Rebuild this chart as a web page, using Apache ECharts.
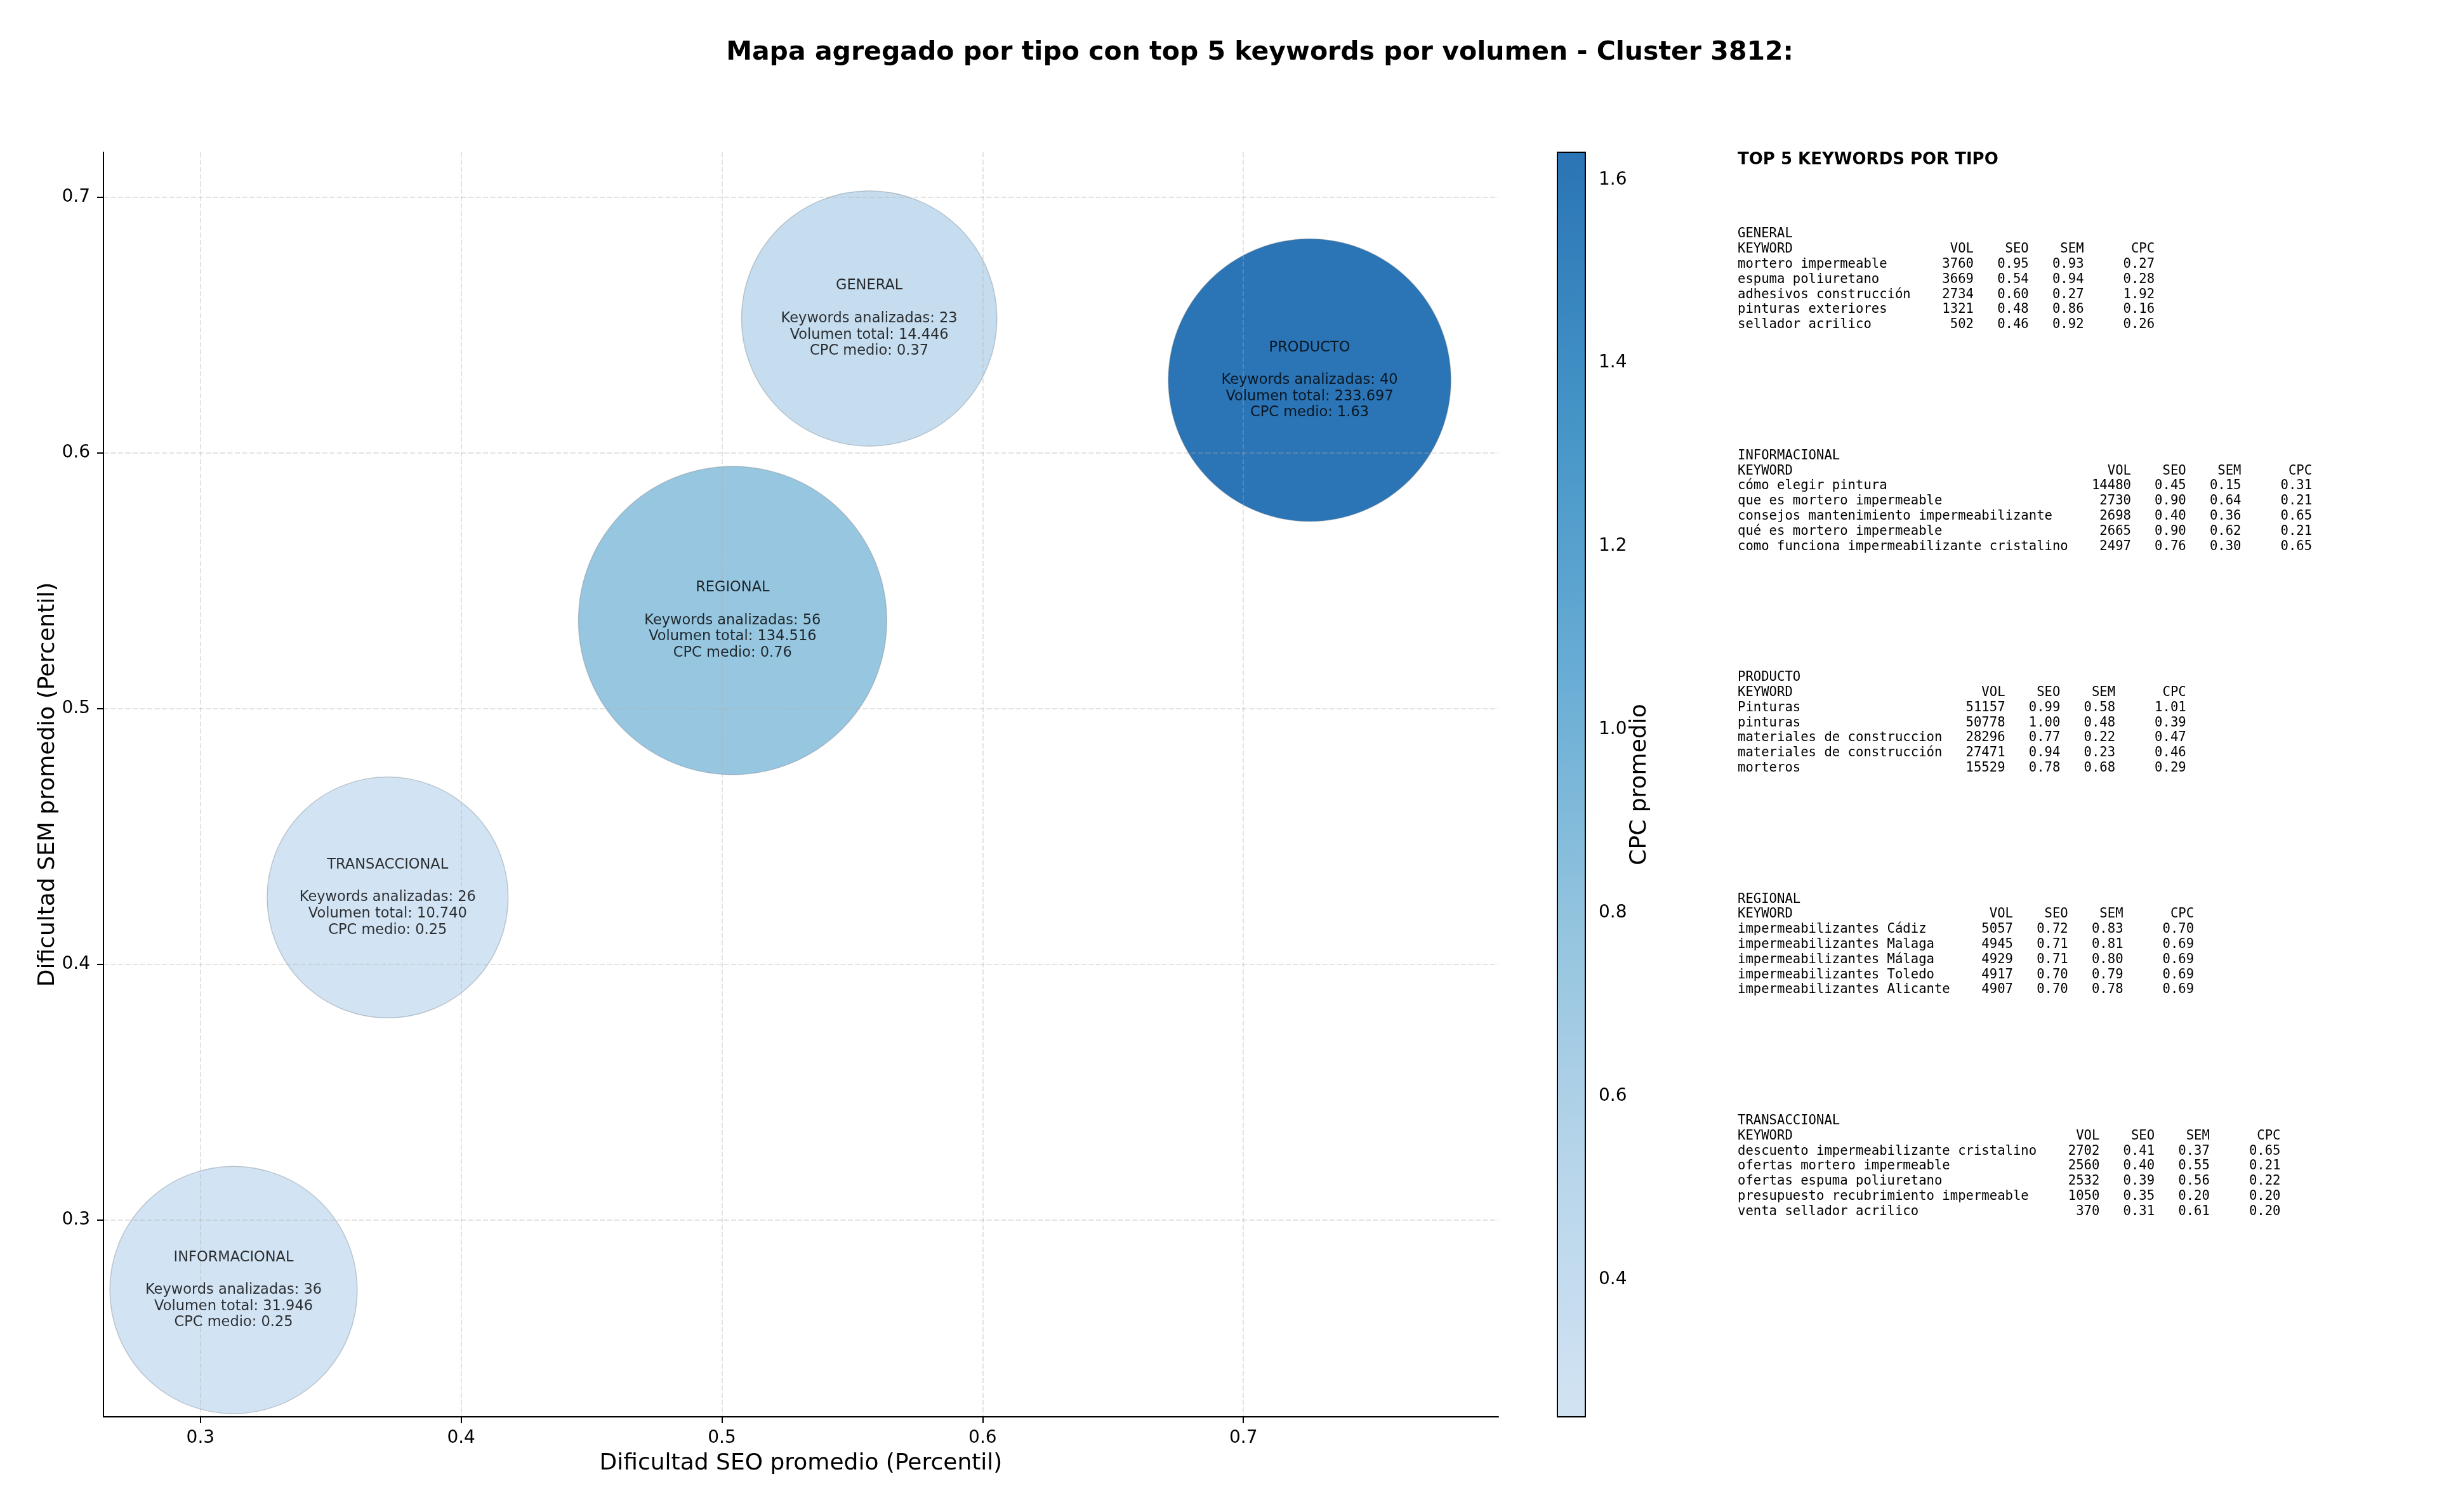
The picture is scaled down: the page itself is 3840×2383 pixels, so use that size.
<!DOCTYPE html>
<html>
<head>
<meta charset="utf-8">
<script src="https://cdn.jsdelivr.net/npm/echarts@6/dist/echarts.min.js"></script>
<style>
  html, body { margin: 0; padding: 0; background: #fff; }
  #chart { width: 3840px; height: 2383px; }
</style>
</head>
<body>
<div id="chart"></div>
<script>
// agregados por tipo
const tipos = ['GENERAL', 'INFORMACIONAL', 'PRODUCTO', 'REGIONAL', 'TRANSACCIONAL'];
const seoPromedio = [0.5565, 0.3127, 0.7254, 0.5041, 0.3718];
const semPromedio = [0.6526, 0.2727, 0.6285, 0.5345, 0.4262];
const cpcMedio = [0.37, 0.25, 1.63, 0.76, 0.25];
const numKeywords = [23, 36, 40, 56, 26];
const volumenTotal = [14446, 31946, 233697, 134516, 10740];
// tamaño de burbuja (s de scatter, pt^2)
const tamanoBurbuja = [21000, 19700, 25700, 30600, 18700];

const xTicks = [0.3, 0.4, 0.5, 0.6, 0.7];
const yTicks = [0.3, 0.4, 0.5, 0.6, 0.7];
const cbTicks = [0.4, 0.6, 0.8, 1.0, 1.2, 1.4, 1.6];

// top 5 keywords por volumen: [keyword, vol, seo, sem, cpc]
const topGeneral = [
  ['mortero impermeable', 3760, 0.95, 0.93, 0.27],
  ['espuma poliuretano', 3669, 0.54, 0.94, 0.28],
  ['adhesivos construcción', 2734, 0.60, 0.27, 1.92],
  ['pinturas exteriores', 1321, 0.48, 0.86, 0.16],
  ['sellador acrilico', 502, 0.46, 0.92, 0.26]
];
const topInformacional = [
  ['cómo elegir pintura', 14480, 0.45, 0.15, 0.31],
  ['que es mortero impermeable', 2730, 0.90, 0.64, 0.21],
  ['consejos mantenimiento impermeabilizante', 2698, 0.40, 0.36, 0.65],
  ['qué es mortero impermeable', 2665, 0.90, 0.62, 0.21],
  ['como funciona impermeabilizante cristalino', 2497, 0.76, 0.30, 0.65]
];
const topProducto = [
  ['Pinturas', 51157, 0.99, 0.58, 1.01],
  ['pinturas', 50778, 1.00, 0.48, 0.39],
  ['materiales de construccion', 28296, 0.77, 0.22, 0.47],
  ['materiales de construcción', 27471, 0.94, 0.23, 0.46],
  ['morteros', 15529, 0.78, 0.68, 0.29]
];
const topRegional = [
  ['impermeabilizantes Cádiz', 5057, 0.72, 0.83, 0.70],
  ['impermeabilizantes Malaga', 4945, 0.71, 0.81, 0.69],
  ['impermeabilizantes Málaga', 4929, 0.71, 0.80, 0.69],
  ['impermeabilizantes Toledo', 4917, 0.70, 0.79, 0.69],
  ['impermeabilizantes Alicante', 4907, 0.70, 0.78, 0.69]
];
const topTransaccional = [
  ['descuento impermeabilizante cristalino', 2702, 0.41, 0.37, 0.65],
  ['ofertas mortero impermeable', 2560, 0.40, 0.55, 0.21],
  ['ofertas espuma poliuretano', 2532, 0.39, 0.56, 0.22],
  ['presupuesto recubrimiento impermeable', 1050, 0.35, 0.20, 0.20],
  ['venta sellador acrilico', 370, 0.31, 0.61, 0.20]
];
const topPorTipo = [topGeneral, topInformacional, topProducto, topRegional, topTransaccional];

// Blues recortado
const BLUES = ['#d2e3f3', '#b7d5ea', '#91c3de', '#66abd4', '#4393c6', '#2b74b5'];
const FONT = 'DejaVu Sans';

function miles(v) {
  return String(v).replace(/\B(?=(\d{3})+(?!\d))/g, '.');
}

function tabla(nombre, filas) {
  const w = Math.max(...filas.map(f => f[0].length));
  const lines = [nombre,
    'KEYWORD'.padEnd(w) + 'VOL'.padStart(8) + 'SEO'.padStart(7) + 'SEM'.padStart(7) + 'CPC'.padStart(9)];
  filas.forEach(f => {
    lines.push(f[0].padEnd(w) + String(f[1]).padStart(8) + f[2].toFixed(2).padStart(7) +
      f[3].toFixed(2).padStart(7) + f[4].toFixed(2).padStart(9));
  });
  return lines.join('\n');
}

const puntos = tipos.map((t, i) => ({
  name: t,
  value: [seoPromedio[i], semPromedio[i], cpcMedio[i]],
  symbolSize: Math.sqrt(tamanoBurbuja[i]) * 200 / 72,
  kw: numKeywords[i],
  vol: volumenTotal[i]
}));

const textos = [
  {
    type: 'text', x: 1985, y: 83,
    style: {
      text: 'Mapa agregado por tipo con top 5 keywords por volumen - Cluster 3812:',
      font: 'bold 41px "DejaVu Sans"', fill: '#000',
      textAlign: 'center', textVerticalAlign: 'middle'
    }
  },
  {
    type: 'text', x: 2738, y: 252,
    style: {
      text: 'TOP 5 KEYWORDS POR TIPO', font: 'bold 26px "DejaVu Sans"', fill: '#000',
      textAlign: 'left', textVerticalAlign: 'middle'
    }
  }
];
tipos.forEach((t, i) => {
  textos.push({
    type: 'text', x: 2738, y: 369 - 11.9 + i * 349.4,
    style: {
      text: tabla(t, topPorTipo[i]),
      font: '20.6px "DejaVu Sans Mono"', lineHeight: 23.8, fill: '#000',
      textAlign: 'left', textVerticalAlign: 'top'
    }
  });
});

const axisLbl = { color: '#000', fontSize: 28, fontFamily: FONT };
const nameLbl = { fontSize: 36, color: '#000', fontFamily: FONT };
const gridLine = { show: true, lineStyle: { color: 'rgba(176,176,176,0.35)', width: 2, type: [8, 3.5] } };

const chart = echarts.init(document.getElementById('chart'));
chart.setOption({
  animation: false,
  backgroundColor: '#fff',
  textStyle: { fontFamily: FONT },
  graphic: textos,
  grid: [
    { left: 163, top: 240, width: 2198, height: 1993 },
    {
      left: 2454, top: 240, width: 44, height: 1993, show: true, z: 1,
      borderColor: '#000', borderWidth: 2,
      backgroundColor: {
        type: 'linear', x: 0, y: 1, x2: 0, y2: 0,
        colorStops: BLUES.map((c, i) => ({ offset: i / (BLUES.length - 1), color: c }))
      }
    }
  ],
  visualMap: {
    type: 'continuous', show: false, seriesIndex: 0, dimension: 2,
    min: 0.25, max: 1.63, inRange: { color: BLUES }
  },
  xAxis: [
    {
      type: 'value', gridIndex: 0, min: 0.2628, max: 0.7978, z: 3,
      name: 'Dificultad SEO promedio (Percentil)', nameLocation: 'middle', nameGap: 56,
      nameMoveOverlap: false,
      nameTextStyle: nameLbl,
      axisLine: { onZero: false, lineStyle: { color: '#000', width: 2 } },
      axisTick: { customValues: xTicks, length: 10, lineStyle: { color: '#000', width: 2 } },
      axisLabel: Object.assign({ customValues: xTicks, margin: 20, formatter: v => v.toFixed(1) }, axisLbl),
      splitLine: gridLine
    },
    { type: 'value', gridIndex: 1, show: false, min: 0, max: 1 }
  ],
  yAxis: [
    {
      type: 'value', gridIndex: 0, min: 0.2231, max: 0.7176, z: 3,
      name: 'Dificultad SEM promedio (Percentil)', nameLocation: 'middle', nameGap: 69, nameRotate: 90,
      nameMoveOverlap: false,
      nameTextStyle: nameLbl,
      axisLine: { show: true, onZero: false, lineStyle: { color: '#000', width: 2 } },
      axisTick: { show: true, customValues: yTicks, length: 10, lineStyle: { color: '#000', width: 2 } },
      axisLabel: Object.assign({ customValues: yTicks, margin: 21, formatter: v => v.toFixed(1) }, axisLbl),
      splitLine: gridLine
    },
    {
      type: 'value', gridIndex: 1, position: 'right', min: 0.25, max: 1.63,
      name: 'CPC promedio', nameLocation: 'middle', nameGap: 68, nameRotate: 90,
      nameMoveOverlap: false,
      nameTextStyle: nameLbl,
      axisLine: { show: false },
      axisTick: { show: true, customValues: cbTicks, length: 10, lineStyle: { color: '#000', width: 2 } },
      axisLabel: Object.assign({ customValues: cbTicks, margin: 21, formatter: v => v.toFixed(1) }, axisLbl),
      splitLine: { show: false }
    }
  ],
  series: [
    {
      type: 'scatter', xAxisIndex: 0, yAxisIndex: 0, z: 2,
      data: puntos,
      itemStyle: { opacity: 1, borderColor: 'rgba(110,120,130,0.35)', borderWidth: 1.5 },
      emphasis: { disabled: true }
    },
    {
      // etiquetas por encima de la rejilla
      type: 'scatter', xAxisIndex: 0, yAxisIndex: 0, z: 5,
      data: puntos.map(p => ({ name: p.name, value: p.value, kw: p.kw, vol: p.vol })),
      symbolSize: 2,
      itemStyle: { color: 'rgba(0,0,0,0)' },
      emphasis: { disabled: true },
      label: {
        show: true, position: 'inside', color: '#000', fontSize: 22.5, lineHeight: 25.7,
        fontFamily: FONT, align: 'center', verticalAlign: 'middle',
        formatter: p => p.name + '\n\nKeywords analizadas: ' + p.data.kw +
          '\nVolumen total: ' + miles(p.data.vol) + '\nCPC medio: ' + p.value[2].toFixed(2)
      }
    }
  ]
});
</script>
</body>
</html>
